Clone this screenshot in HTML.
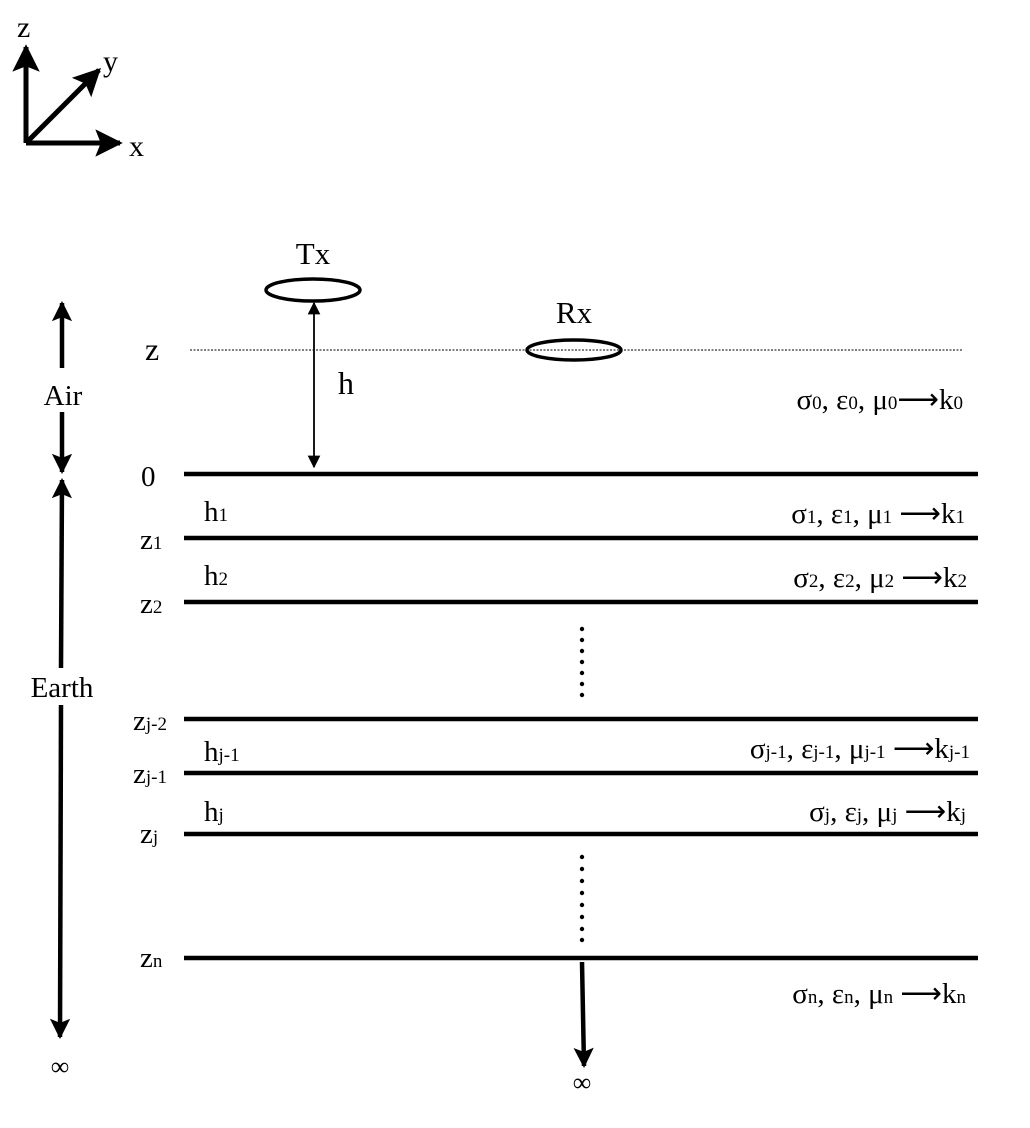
<!DOCTYPE html>
<html><head><meta charset="utf-8"><style>
html,body{margin:0;padding:0;background:#fff}
svg{display:block}
text{font-family:"Liberation Serif",serif;fill:#000}
.s{font-size:19px}
</style></head><body>
<svg width="1030" height="1128" viewBox="0 0 1030 1128">
<defs>
<marker id="ah" viewBox="0 0 10 10" refX="9" refY="5" markerWidth="4.5" markerHeight="4.5" orient="auto-start-reverse"><path d="M0,0 L10,5 L0,10 L2,5 Z" fill="#000"/></marker>
<marker id="ac" viewBox="0 0 10 10" refX="9" refY="5" markerWidth="5.5" markerHeight="5.5" orient="auto-start-reverse"><path d="M0,0 L10,5 L0,10 L2,5 Z" fill="#000"/></marker>
<marker id="as" viewBox="0 0 10 10" refX="9" refY="5" markerWidth="7" markerHeight="7" orient="auto-start-reverse"><path d="M0,0 L10,5 L0,10 Z" fill="#000"/></marker>
</defs>
<g stroke="#000" stroke-width="5">
<line x1="26" y1="143" x2="26" y2="47" marker-end="url(#ac)"/>
<line x1="26" y1="143" x2="120" y2="143" marker-end="url(#ac)"/>
<line x1="26" y1="143" x2="99" y2="70" marker-end="url(#ac)"/>
</g>
<text x="17" y="37" font-size="30">z</text>
<text x="129" y="156" font-size="30">x</text>
<text x="103" y="71" font-size="30">y</text>

<ellipse cx="313" cy="290" rx="47" ry="11" fill="none" stroke="#000" stroke-width="3.5"/>
<text x="313" y="264" font-size="31" text-anchor="middle">Tx</text>
<ellipse cx="574" cy="350" rx="47" ry="10" fill="none" stroke="#000" stroke-width="3.5"/>
<text x="574" y="323" font-size="31" text-anchor="middle">Rx</text>
<line x1="190" y1="350" x2="962" y2="350" stroke="#000" stroke-width="1" stroke-dasharray="2,1.5"/>
<text x="145" y="360" font-size="32">z</text>
<line x1="314" y1="303" x2="314" y2="467" stroke="#000" stroke-width="1.8" marker-start="url(#as)" marker-end="url(#as)"/>
<text x="338" y="394" font-size="32">h</text>

<g stroke="#000" stroke-width="4.5">
<line x1="62" y1="368" x2="62" y2="303" marker-end="url(#ah)"/>
<line x1="62" y1="412" x2="62" y2="472" marker-end="url(#ah)"/>
</g>
<text x="63" y="405" font-size="29" text-anchor="middle">Air</text>
<g stroke="#000" stroke-width="4.5">
<line x1="61" y1="668" x2="62" y2="480" marker-end="url(#ah)"/>
<line x1="61" y1="705" x2="60" y2="1037" marker-end="url(#ah)"/>
</g>
<text x="62" y="697" font-size="29" text-anchor="middle">Earth</text>
<text x="60" y="1075" font-size="26" text-anchor="middle">∞</text>

<g stroke="#000" stroke-width="4.5">
<line x1="184" y1="474" x2="978" y2="474"/>
<line x1="184" y1="538" x2="978" y2="538"/>
<line x1="184" y1="602" x2="978" y2="602"/>
<line x1="184" y1="719" x2="978" y2="719"/>
<line x1="184" y1="773" x2="978" y2="773"/>
<line x1="184" y1="834" x2="978" y2="834"/>
<line x1="184" y1="958" x2="978" y2="958"/>
</g>

<g font-size="29">
<text x="141" y="486">0</text>
<text x="140" y="549">z<tspan class="s">1</tspan></text>
<text x="140" y="613">z<tspan class="s">2</tspan></text>
<text x="133" y="730">z<tspan class="s">j-2</tspan></text>
<text x="133" y="783">z<tspan class="s">j-1</tspan></text>
<text x="140" y="843">z<tspan class="s">j</tspan></text>
<text x="140" y="967">z<tspan class="s">n</tspan></text>
</g>
<g font-size="29">
<text x="204" y="521">h<tspan class="s">1</tspan></text>
<text x="204" y="585">h<tspan class="s">2</tspan></text>
<text x="204" y="761">h<tspan class="s">j-1</tspan></text>
<text x="204" y="821">h<tspan class="s">j</tspan></text>
</g>
<g font-size="29" text-anchor="end">
<text x="963" y="409">σ<tspan class="s">0</tspan>, ε<tspan class="s">0</tspan>, μ<tspan class="s">0</tspan>⟶k<tspan class="s">0</tspan></text>
<text x="965" y="523">σ<tspan class="s">1</tspan>, ε<tspan class="s">1</tspan>, μ<tspan class="s">1</tspan> ⟶k<tspan class="s">1</tspan></text>
<text x="967" y="587">σ<tspan class="s">2</tspan>, ε<tspan class="s">2</tspan>, μ<tspan class="s">2</tspan> ⟶k<tspan class="s">2</tspan></text>
<text x="970" y="758">σ<tspan class="s">j-1</tspan>, ε<tspan class="s">j-1</tspan>, μ<tspan class="s">j-1</tspan> ⟶k<tspan class="s">j-1</tspan></text>
<text x="966" y="821">σ<tspan class="s">j</tspan>, ε<tspan class="s">j</tspan>, μ<tspan class="s">j</tspan> ⟶k<tspan class="s">j</tspan></text>
<text x="966" y="1003">σ<tspan class="s">n</tspan>, ε<tspan class="s">n</tspan>, μ<tspan class="s">n</tspan> ⟶k<tspan class="s">n</tspan></text>
</g>

<g fill="#000">
<circle cx="582" cy="629" r="2.2"/><circle cx="582" cy="640" r="2.2"/><circle cx="582" cy="651" r="2.2"/><circle cx="582" cy="662" r="2.2"/><circle cx="582" cy="673" r="2.2"/><circle cx="582" cy="684" r="2.2"/><circle cx="582" cy="695" r="2.2"/>
<circle cx="582" cy="857" r="2.2"/><circle cx="582" cy="869" r="2.2"/><circle cx="582" cy="881" r="2.2"/><circle cx="582" cy="893" r="2.2"/><circle cx="582" cy="905" r="2.2"/><circle cx="582" cy="917" r="2.2"/><circle cx="582" cy="929" r="2.2"/><circle cx="582" cy="940" r="2.2"/>
</g>
<line x1="582" y1="962" x2="584" y2="1066" stroke="#000" stroke-width="4.5" marker-end="url(#ah)"/>
<text x="582" y="1091" font-size="26" text-anchor="middle">∞</text>
</svg>
</body></html>
